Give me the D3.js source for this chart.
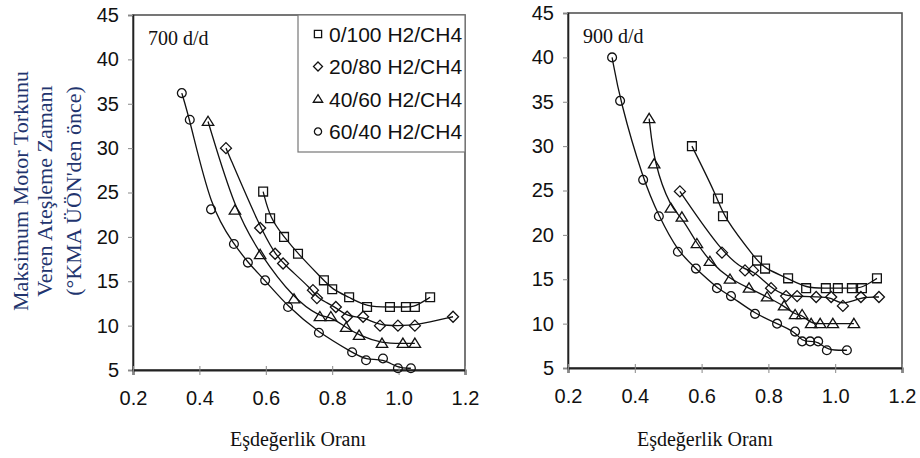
<!DOCTYPE html>
<html>
<head>
<meta charset="utf-8">
<script src="https://cdn.jsdelivr.net/npm/d3@7"></script>
<style>
  body { margin: 0; background: #fff; }
  svg { display: block; }
  .tick text { font-family: "Liberation Sans", Arial, sans-serif; font-size: 20px; fill: #111; }
  .serif { font-family: "Liberation Serif", "Times New Roman", serif; }
</style>
</head>
<body>
<svg id="chart" width="920" height="458"></svg>
<script>
// series labels
const seriesNames = ['0/100 H2/CH4', '20/80 H2/CH4', '40/60 H2/CH4', '60/40 H2/CH4'];
const seriesSymbols = ['square', 'diamond', 'triangle', 'circle'];
const xTicks = [0.2, 0.4, 0.6, 0.8, 1.0, 1.2];
const yTicks = [5, 10, 15, 20, 25, 30, 35, 40, 45];

// 700 d/d  (equivalence ratio, ignition timing)
const s700_0_100 = [[0.592, 25.1], [0.613, 22.1], [0.655, 20.0], [0.697, 18.1], [0.775, 15.1], [0.80, 14.1], [0.851, 13.2], [0.905, 12.1], [0.974, 12.1], [1.022, 12.1], [1.049, 12.1], [1.095, 13.2]];
const s700_20_80 = [[0.48, 30.0], [0.583, 21.0], [0.628, 18.1], [0.652, 17.0], [0.742, 14.0], [0.754, 13.1], [0.811, 12.1], [0.845, 11.0], [0.893, 11.0], [0.944, 10.0], [0.998, 10.0], [1.049, 10.0], [1.164, 11.0]];
const s700_40_60 = [[0.426, 33.0], [0.507, 23.0], [0.583, 18.0], [0.685, 13.0], [0.763, 11.0], [0.796, 11.0], [0.842, 9.8], [0.881, 8.9], [0.95, 8.0], [1.013, 8.0], [1.049, 8.0]];
const s700_60_40 = [[0.347, 36.2], [0.371, 33.2], [0.435, 23.1], [0.504, 19.2], [0.546, 17.1], [0.598, 15.1], [0.667, 12.1], [0.76, 9.2], [0.86, 7.0], [0.902, 6.1], [0.953, 6.3], [0.998, 5.2], [1.037, 5.2]];

// 900 d/d
const s900_0_100 = [[0.571, 30.0], [0.649, 24.1], [0.664, 22.1], [0.766, 17.1], [0.79, 16.2], [0.859, 15.1], [0.913, 14.0], [0.972, 14.0], [1.008, 14.0], [1.05, 14.0], [1.08, 14.0], [1.125, 15.1]];
const s900_20_80 = [[0.535, 24.9], [0.661, 18.0], [0.73, 16.0], [0.754, 16.0], [0.808, 14.0], [0.853, 13.1], [0.886, 13.1], [0.943, 13.0], [0.988, 13.0], [1.023, 12.0], [1.077, 13.0], [1.131, 13.0]];
const s900_40_60 = [[0.443, 33.1], [0.458, 28.0], [0.508, 23.0], [0.541, 22.0], [0.586, 19.0], [0.625, 17.0], [0.685, 15.0], [0.742, 14.0], [0.796, 13.0], [0.847, 12.0], [0.88, 11.0], [0.901, 11.0], [0.928, 10.0], [0.955, 10.0], [0.993, 10.0], [1.056, 10.0]];
const s900_60_40 = [[0.332, 40.0], [0.356, 35.1], [0.425, 26.2], [0.472, 22.1], [0.529, 18.1], [0.583, 16.2], [0.646, 14.0], [0.688, 13.1], [0.76, 11.1], [0.826, 10.0], [0.88, 9.1], [0.901, 8.0], [0.925, 8.0], [0.949, 8.0], [0.975, 7.0], [1.035, 7.0]];

const svg = d3.select('#chart');

const symbolPath = {
  square: s => `M${-s},${-s}H${s}V${s}H${-s}Z`,
  diamond: s => `M0,${-s * 1.25}L${s * 1.25},0L0,${s * 1.25}L${-s * 1.25},0Z`,
  triangle: s => `M0,${-s * 1.2}L${s * 1.3},${s * 0.9}L${-s * 1.3},${s * 0.9}Z`,
  circle: s => `M${s},0A${s},${s} 0 1,1 ${-s},0A${s},${s} 0 1,1 ${s},0Z`
};

function drawPanel(opts) {
  const { left, right, top, bottom, label, series } = opts;
  const x = d3.scaleLinear().domain([0.2, 1.2]).range([left, right]);
  const y = d3.scaleLinear().domain([5, 45]).range([bottom, top]);
  const g = svg.append('g');

  // frame
  g.append('rect')
    .attr('x', left).attr('y', top)
    .attr('width', right - left).attr('height', bottom - top)
    .attr('fill', 'none').attr('stroke', '#555').attr('stroke-width', 1.6);

  const yAxis = g.append('g')
    .attr('transform', `translate(${left},0)`)
    .call(d3.axisLeft(y).tickValues(yTicks).tickSize(5).tickPadding(9));
  yAxis.select('.domain').attr('stroke', '#222').attr('stroke-width', 1.6);
  yAxis.selectAll('.tick line').attr('stroke', '#888');

  const xAxis = g.append('g')
    .attr('transform', `translate(0,${bottom})`)
    .call(d3.axisBottom(x).tickValues(xTicks).tickFormat(d3.format('.1f')).tickSize(5).tickPadding(16));
  xAxis.select('.domain').attr('stroke', '#222').attr('stroke-width', 2);
  xAxis.selectAll('.tick line').attr('stroke', '#888').attr('y1', -4);

  g.append('text')
    .attr('class', 'serif')
    .attr('x', left + 15).attr('y', top + 30)
    .attr('font-size', 20).attr('fill', '#111')
    .text(label);

  const line = d3.line()
    .x(d => x(d[0])).y(d => y(d[1]))
    .curve(d3.curveBasis);

  series.forEach((data, i) => {
    g.append('path')
      .datum(data)
      .attr('d', line)
      .attr('fill', 'none')
      .attr('stroke', '#111')
      .attr('stroke-width', 1.3);
    g.selectAll(null)
      .data(data)
      .enter().append('path')
      .attr('transform', d => `translate(${x(d[0])},${y(d[1])})`)
      .attr('d', symbolPath[seriesSymbols[i]](4.4))
      .attr('fill', 'none')
      .attr('stroke', '#111')
      .attr('stroke-width', 1.3);
  });

  g.append('text')
    .attr('class', 'serif')
    .attr('x', opts.titleX).attr('y', 446)
    .attr('text-anchor', 'middle')
    .attr('font-size', 20).attr('fill', '#111')
    .text('Eşdeğerlik Oranı');

  return { x, y, g };
}

drawPanel({
  left: 133, right: 465, top: 15, bottom: 370, label: '700 d/d', titleX: 298,
  series: [s700_0_100, s700_20_80, s700_40_60, s700_60_40]
});
drawPanel({
  left: 568, right: 902, top: 13, bottom: 368, label: '900 d/d', titleX: 705,
  series: [s900_0_100, s900_20_80, s900_40_60, s900_60_40]
});

// legend inside left panel
const legend = svg.append('g');
legend.append('rect')
  .attr('x', 298).attr('y', 15).attr('width', 167).attr('height', 137)
  .attr('fill', '#fff').attr('stroke', '#777').attr('stroke-width', 1.2);
seriesNames.forEach((name, i) => {
  const cy = 34 + i * 32.5;
  legend.append('path')
    .attr('transform', `translate(318,${cy})`)
    .attr('d', symbolPath[seriesSymbols[i]](3.6))
    .attr('fill', 'none').attr('stroke', '#111').attr('stroke-width', 1.3);
  legend.append('text')
    .attr('x', 329).attr('y', cy + 7.5)
    .attr('font-family', '"Liberation Sans", Arial, sans-serif')
    .attr('font-size', 21).attr('fill', '#111')
    .text(name);
});

// y axis title
const yTitle = ['Maksimum Motor Torkunu', 'Veren Ateşleme Zamanı', '(°KMA ÜÖN\'den önce)'];
const yTitleX = [20, 44, 73];
yTitle.forEach((t, i) => {
  svg.append('text')
    .attr('class', 'serif')
    .attr('transform', `translate(${yTitleX[i]},191) rotate(-90)`)
    .attr('text-anchor', 'middle')
    .attr('dy', '0.35em')
    .attr('font-size', 22)
    .attr('fill', '#22346e')
    .text(t);
});
</script>
</body>
</html>
